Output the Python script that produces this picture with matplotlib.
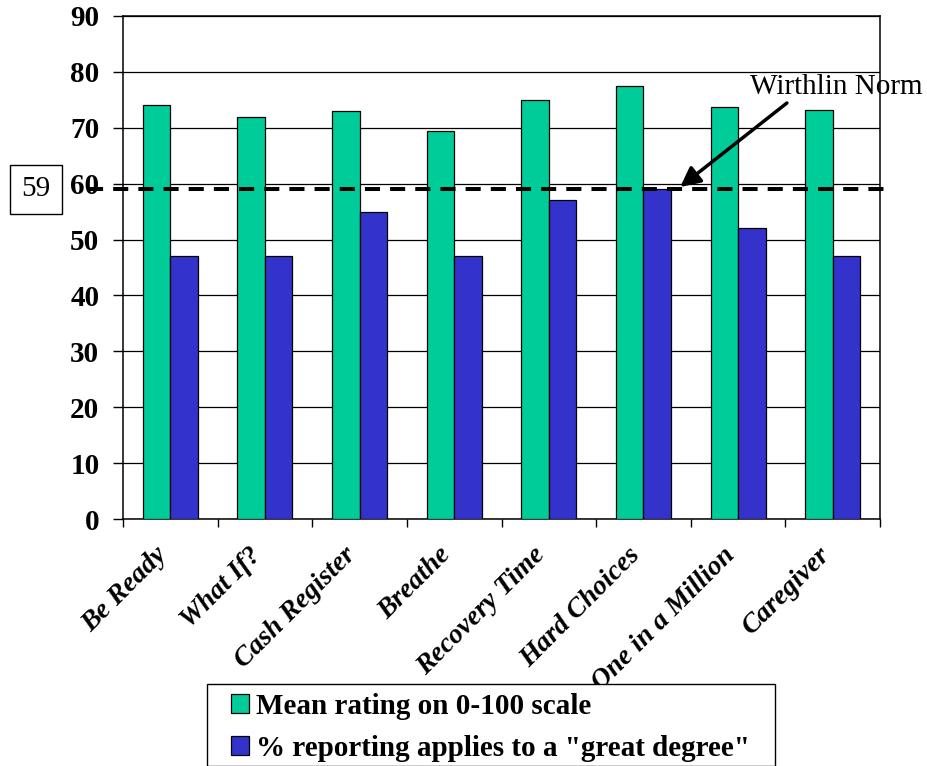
import matplotlib
matplotlib.use("Agg")
import matplotlib.pyplot as plt
import matplotlib.transforms as mtransforms
from matplotlib.patches import Rectangle
import numpy as np

plt.rcParams["font.family"] = ["Liberation Serif", "DejaVu Serif"]

categories = ["Be Ready", "What If?", "Cash Register", "Breathe",
              "Recovery Time", "Hard Choices", "One in a Million", "Caregiver"]
mean_rating = [74, 72, 73, 69.5, 75, 77.5, 73.7, 73.2]
pct_great_degree = [47, 47, 55, 47, 57, 59, 52, 47]
norm_value = 59

series_labels = ["Mean rating on 0-100 scale",
                 '% reporting applies to a "great degree"']
green = "#00CC99"
blue = "#3333CC"

W, H = 927, 766
fig = plt.figure(figsize=(W / 100, H / 100), dpi=100)
ax = fig.add_axes([123 / W, 1 - 519 / H, 757 / W, 503 / H])

x = np.arange(len(categories))
w = 0.29
ax.bar(x - w / 2, mean_rating, w, color=green, edgecolor="black",
       linewidth=0.9, label=series_labels[0], zorder=3)
ax.bar(x + w / 2, pct_great_degree, w, color=blue, edgecolor="black",
       linewidth=0.9, label=series_labels[1], zorder=3)

ax.set_xlim(-0.5, len(categories) - 0.5)
ax.set_ylim(0, 90)
ax.set_yticks(range(0, 91, 10))
ax.yaxis.grid(True, color="black", linewidth=0.9, zorder=0)
ax.set_axisbelow(True)

for s in ax.spines.values():
    s.set_linewidth(1.1)

ax.tick_params(axis="y", direction="out", length=7, width=1, pad=10,
               labelsize=21)
for lbl in ax.get_yticklabels():
    lbl.set_fontweight("bold")

# category ticks sit between groups, labels at the group centres
ax.set_xticks(x)
ax.set_xticks(np.arange(len(categories) + 1) - 0.5, minor=True)
ax.tick_params(axis="x", which="major", length=0, pad=17)
ax.tick_params(axis="x", which="minor", direction="out", length=6, width=1)
ax.set_xticklabels(categories, rotation=45, ha="right", va="top",
                   rotation_mode="anchor", fontsize=20, fontweight="bold",
                   fontstyle="italic")
shift = mtransforms.ScaledTranslation(-16 / 100, 0, fig.dpi_scale_trans)
for lbl in ax.get_xticklabels():
    lbl.set_transform(lbl.get_transform() + shift)

# norm reference line, running a little past the frame on both sides
ax.axhline(norm_value, xmin=-0.046, xmax=1.007, color="black", linewidth=2.9,
           linestyle=(0, (3.75, 2.5)), clip_on=False, zorder=5)

fig_y = mtransforms.blended_transform_factory(fig.transFigure, ax.transData)
ax.text(36 / W, norm_value, str(norm_value), transform=fig_y,
        ha="center", va="center", fontsize=21,
        bbox=dict(boxstyle="square,pad=0.4", facecolor="white",
                  edgecolor="black", linewidth=1))

ax.annotate("", xy=(0.736, 0.66), xycoords="axes fraction",
            xytext=(0.877, 0.827), textcoords="axes fraction",
            arrowprops=dict(arrowstyle="-|>", color="black", lw=2.5,
                            mutation_scale=30, shrinkA=0, shrinkB=0),
            zorder=6)
ax.text(0.828, 0.859, "Wirthlin Norm", transform=ax.transAxes,
        ha="left", va="center", fontsize=21, clip_on=False, zorder=6)

# legend box drawn separately so the entries can sit with a wider left margin
fig.patches.append(Rectangle((207 / W, 0), 568 / W, 1 - 684 / H,
                             transform=fig.transFigure, facecolor="white",
                             edgecolor="black", linewidth=1, zorder=4))
leg = fig.legend(loc="upper left", bbox_to_anchor=(231 / W, 1 - 693 / H),
                 ncol=1, frameon=False, prop=dict(size=21, weight="bold"),
                 handlelength=0.6, handleheight=0.6, handletextpad=0.25,
                 labelspacing=0.5, borderpad=0, borderaxespad=0)
leg.set_zorder(5)

fig.savefig("out.png", dpi=100, facecolor="white")
